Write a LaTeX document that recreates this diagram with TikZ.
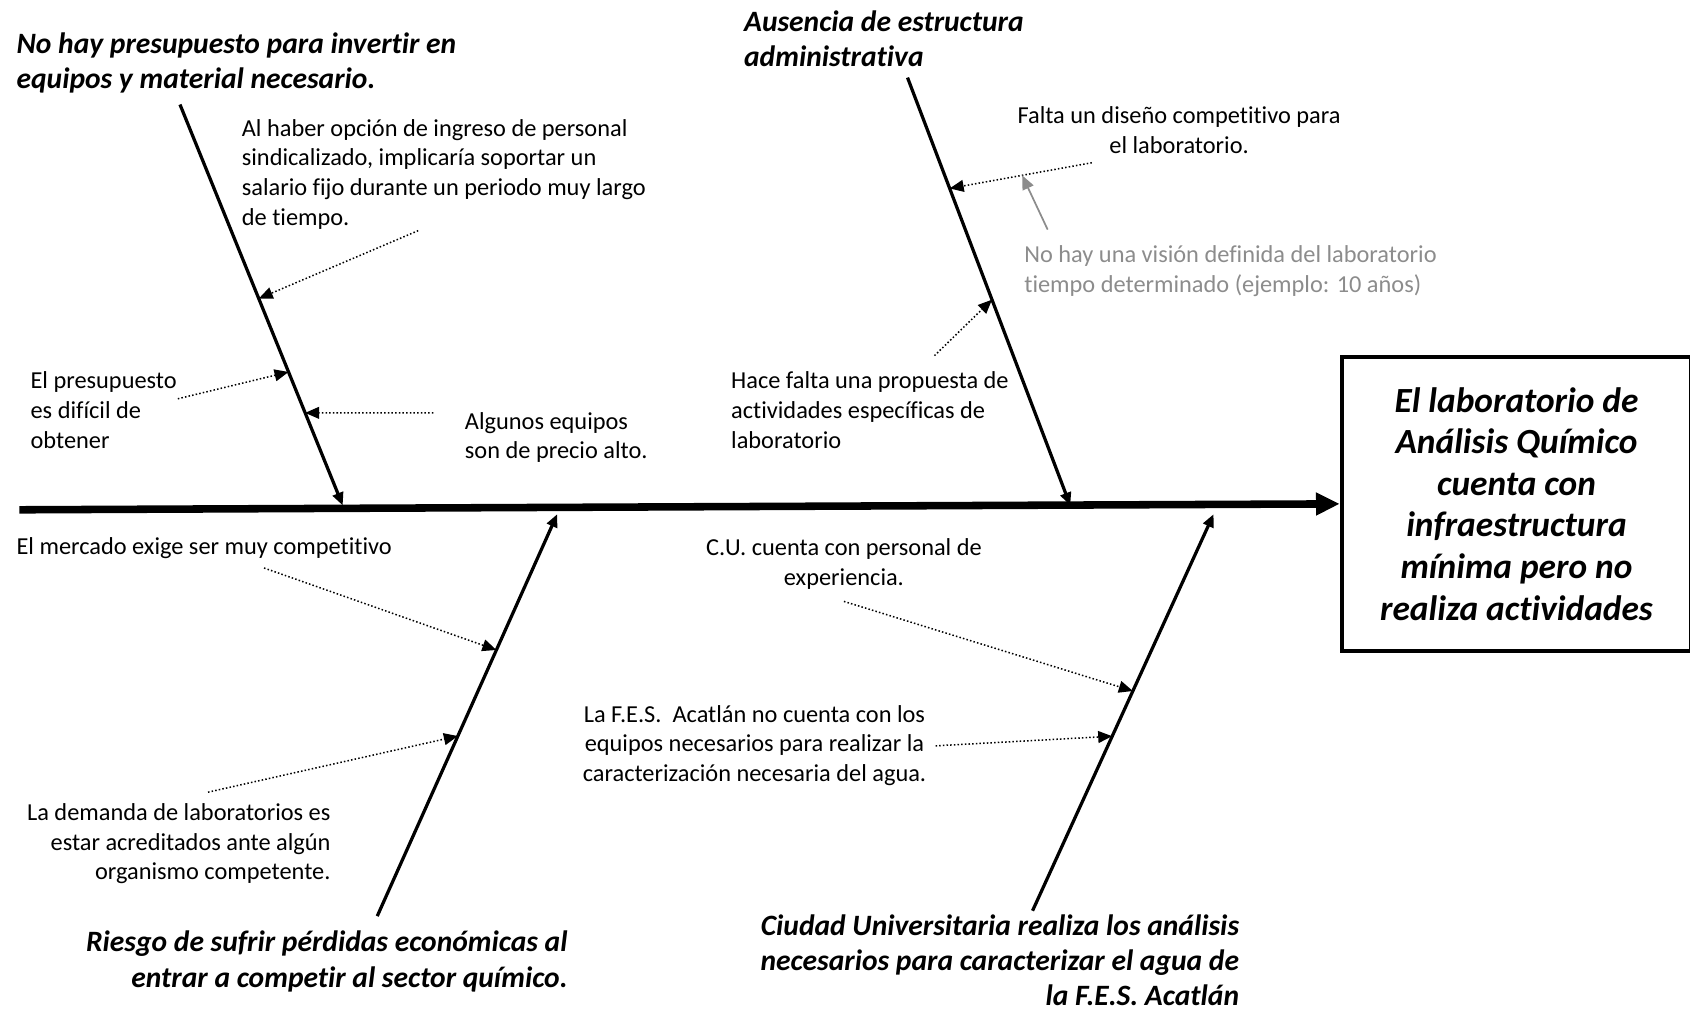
\documentclass[tikz,border=0pt]{standalone}
\usepackage{fontspec}
\setmainfont{Carlito}[Ligatures=NoCommon]
\usetikzlibrary{arrows.meta, calc}

\begin{document}
\begin{tikzpicture}[x=0.5pt,y=-0.5pt,
  spine/.style={line width=3.5pt,-{Triangle[length=11pt,width=10pt]}},
  bone/.style={line width=1.5pt,-{Triangle[length=6pt,width=5pt]}},
  sub/.style={densely dotted,line width=0.7pt,-{Triangle[length=6.5pt,width=5.5pt]}},
  cause/.style={font=\fontsize{13.7}{16.3}\selectfont\bfseries\itshape,inner sep=0pt},
  txt/.style={font=\fontsize{11.3}{13.75}\selectfont,inner sep=0pt}]
\useasboundingbox (0,0) rectangle (1568,940);

\node (effect) at (1407,467.5)[draw,line width=2pt,minimum width=162pt,minimum height=136.5pt,align=center,
  font=\fontsize{16.4}{19.3}\selectfont\bfseries\itshape]{El laboratorio de\\Análisis Químico\\cuenta con\\infraestructura\\mínima pero no\\realiza actividades};
\coordinate (tail) at (18,473);
\draw[spine] (tail) -- (effect.west);

\coordinate (b1s) at (167,97);   \coordinate (b1e) at (318,469);
\coordinate (b2s) at (842,72);   \coordinate (b2e) at (993,469);
\coordinate (b3s) at (350,850);  \coordinate (b3e) at (517,477);
\coordinate (b4s) at (958,845);  \coordinate (b4e) at (1126,477);
\draw[bone] (b1s) -- (b1e);
\draw[bone] (b2s) -- (b2e);
\draw[bone] (b3s) -- (b3e);
\draw[bone] (b4s) -- (b4e);

\node (c1) at (15,58.5)[cause,anchor=west,align=left]{No hay presupuesto para invertir en\\equipos y material necesario.};
\node (c2) at (690,36)[cause,anchor=west,align=left]{Ausencia de estructura\\administrativa};
\node (c3) at (527,892)[cause,anchor=east,align=right]{Riesgo de sufrir pérdidas económicas al\\entrar a competir al sector químico.};
\node (c4) at (1150,891)[cause,anchor=east,align=right]{Ciudad Universitaria realiza los análisis\\necesarios para caracterizar el agua de\\la F.E.S. Acatlán};

\node (s11) at (224,161.5)[txt,anchor=west,align=left]{Al haber opción de ingreso de personal\\sindicalizado, implicaría soportar un\\salario fijo durante un periodo muy largo\\de tiempo.};
\node (s12) at (28,380.5)[txt,anchor=west,align=left]{El presupuesto\\es difícil de\\obtener};
\node (s13) at (431,406)[txt,anchor=west,align=left]{Algunos equipos\\son de precio alto.};
\node (s21) at (1094,120.5)[txt,align=center]{Falta un diseño competitivo para\\el laboratorio.};
\node (s22) at (950,251.5)[txt,anchor=west,align=left,text=black!45]{No hay una visión definida del laboratorio\\tiempo determinado (ejemplo: 10 años)};
\node (s23) at (678,380.5)[txt,anchor=west,align=left]{Hace falta una propuesta de\\actividades específicas de\\laboratorio};
\node (s31) at (15,509)[txt,anchor=west]{El mercado exige ser muy competitivo};
\node (s32) at (307,783)[txt,anchor=east,align=right]{La demanda de laboratorios es\\estar acreditados ante algún\\organismo competente.};
\node (s41) at (783,523)[txt,align=center]{C.U. cuenta con personal de\\experiencia.};
\node (s42) at (700,691.5)[txt,align=center]{La F.E.S.~~Acatlán no cuenta con los\\equipos necesarios para realizar la\\caracterización necesaria del agua.};

\coordinate (a11) at (388,214);  \coordinate (a12) at (165,370);  \coordinate (a13) at (402,383);
\coordinate (a21) at (1013,151); \coordinate (a22) at (972,213);  \coordinate (a23) at (867,330);
\coordinate (a31) at (245,527);  \coordinate (a32) at (193,735);
\coordinate (a41) at (783,558);  \coordinate (a42) at (868,692);

\draw[sub] (a11) -- ($(b1s)!.484!(b1e)$);
\draw[sub] (a12) -- ($(b1s)!.667!(b1e)$);
\draw[sub] (a13) -- ($(b1s)!.769!(b1e)$);
\draw[sub] (a21) -- ($(b2s)!.259!(b2e)$) coordinate[pos=.49] (m21);
\draw[black!45,line width=0.8pt,-{Triangle[length=6.5pt,width=5.5pt]}] (a22) -- (m21);
\draw[sub] (a23) -- ($(b2s)!.519!(b2e)$);
\draw[sub] (a31) -- ($(b3s)!.662!(b3e)$);
\draw[sub] (a32) -- ($(b3s)!.448!(b3e)$);
\draw[sub] (a41) -- ($(b4s)!.554!(b4e)$);
\draw[sub] (a42) -- ($(b4s)!.44!(b4e)$);
\end{tikzpicture}
\end{document}
